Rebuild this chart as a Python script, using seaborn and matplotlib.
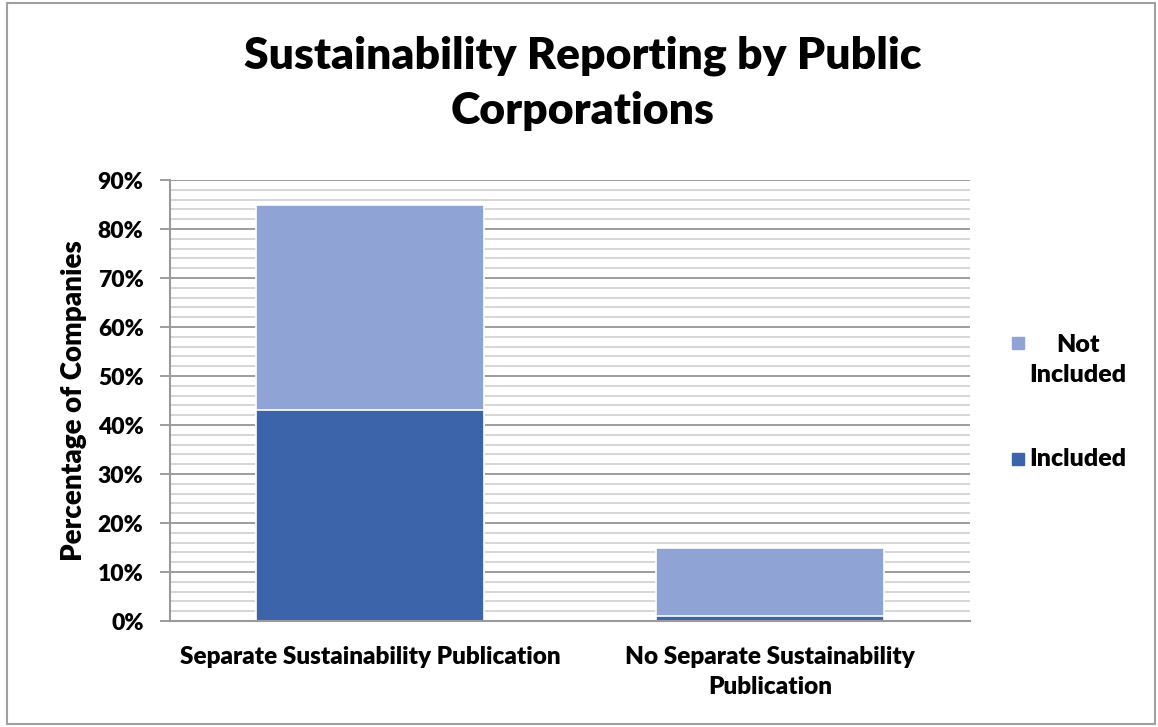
import pandas as pd
import seaborn as sns
import matplotlib.pyplot as plt
from matplotlib.patches import Rectangle
from matplotlib.ticker import MultipleLocator, FuncFormatter

categories = ["Separate Sustainability Publication", "No Separate Sustainability\nPublication"]
included = [43, 1]
not_included = [42, 14]
series_names = ["Not\nIncluded", "Included"]

df = pd.DataFrame({"category": categories, "included": included, "not_included": not_included})
df["total"] = df["included"] + df["not_included"]

dark = "#3C64AB"
light = "#8FA3D4"
W = "heavy"

sns.set_theme(style="white")
plt.rcParams['font.family'] = ['Lato', 'DejaVu Sans']
plt.rcParams['text.color'] = 'black'
plt.rcParams['axes.labelcolor'] = 'black'

fig = plt.figure(figsize=(11.58, 7.27), dpi=100)
ax = fig.add_axes([0.1468, 0.1458, 0.6909, 0.6066])

# grid under the bars
ax.yaxis.set_major_locator(MultipleLocator(10))
ax.yaxis.set_minor_locator(MultipleLocator(2))
ax.grid(which="minor", axis="y", color="#d0d0d0", linewidth=1.2)
ax.grid(which="major", axis="y", color="#8c8c8c", linewidth=1.2)
ax.set_axisbelow(True)

sns.barplot(data=df, x="category", y="total", color=light, width=0.57,
            edgecolor="white", linewidth=1.2, saturation=1, ax=ax)
sns.barplot(data=df, x="category", y="included", color=dark, width=0.57,
            edgecolor="white", linewidth=1.2, saturation=1, ax=ax)

ax.set_ylim(0, 90)
ax.set_xlim(-0.5, 1.5)
ax.yaxis.set_major_formatter(FuncFormatter(lambda v, p: f"{int(v)}%"))
ax.tick_params(axis="y", which="major", left=True, length=7, width=1.2, color="#8c8c8c",
               labelcolor="black", labelsize=16.5, pad=12)
ax.tick_params(axis="y", which="minor", left=False)
ax.tick_params(axis="x", bottom=False, labelcolor="black", labelsize=17.5, pad=12)
for lbl in ax.get_xticklabels() + ax.get_yticklabels():
    lbl.set_fontweight(W)
for lbl in ax.get_xticklabels():
    lbl.set_linespacing(1.45)

ax.set_xlabel("")
ax.set_ylabel("Percentage of Companies", fontsize=20, fontweight=W, labelpad=8)

for s in ["top", "right"]:
    ax.spines[s].set_visible(False)
ax.spines["left"].set_color("#9a9a9a")
ax.spines["left"].set_linewidth(1.5)
ax.spines["bottom"].set_color("#9a9a9a")
ax.spines["bottom"].set_linewidth(1.5)

fig.text(0.503, 0.886, "Sustainability Reporting by Public\nCorporations", ha="center", va="center",
         fontsize=32, fontweight=W, linespacing=1.45)

# legend, drawn by hand to match the layout (marker level with first text line)
for name, col, ty in zip(series_names, [light, dark], [343, 459]):
    yf = 1 - ty / 727
    fig.patches.append(Rectangle((1012 / 1158, yf - 6 / 727), 12 / 1158, 12 / 727,
                                 transform=fig.transFigure, color=col))
    if "\n" in name:
        fig.text(1078 / 1158, yf + 9 / 727, name, ha="center", va="top", fontsize=18,
                 fontweight=W, linespacing=1.45, transform=fig.transFigure)
    else:
        fig.text(1029 / 1158, yf, name, ha="left", va="center", fontsize=18,
                 fontweight=W, transform=fig.transFigure)

fig.patches.append(Rectangle((0.006, 0.004), 0.991, 0.992, transform=fig.transFigure,
                             fill=False, edgecolor="#a0a0a0", linewidth=1.5))

fig.savefig("out.png", dpi=100)
